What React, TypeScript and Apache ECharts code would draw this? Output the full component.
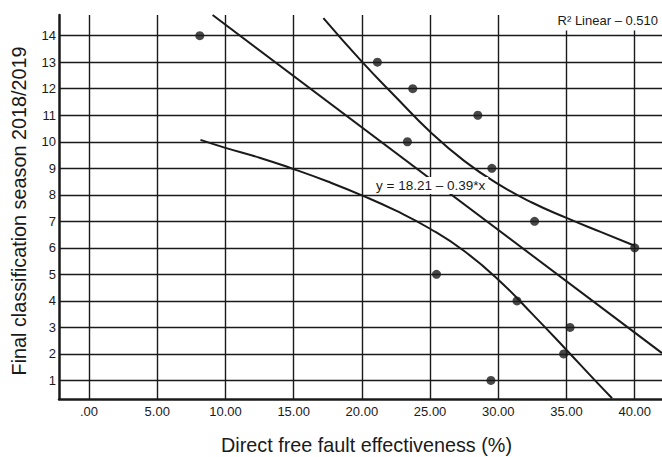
import React, { useEffect, useRef } from "react";
import * as echarts from "echarts";

// Scatter data: direct free fault effectiveness (%) vs final classification
const effectiveness = [8.12, 21.14, 23.73, 28.5, 23.34, 29.53, 32.66, 40.0, 25.47, 31.37, 35.26, 34.79, 29.46];
const classification = [14, 13, 12, 11, 10, 9, 7, 6, 5, 4, 3, 2, 1];

// Fitted line
const regressionX = [9.06, 42];
const regressionY = [14.78, 2.03];

// Upper confidence curve
const upperX = [17.18, 20, 22.5, 25, 27.5, 30, 32.5, 35, 37.5, 40];
const upperY = [14.66, 13.02, 11.68, 10.38, 9.28, 8.4, 7.7, 7.13, 6.6, 6.08];

// Lower confidence curve
const lowerX = [8.17, 10, 12.5, 15, 17.5, 20, 22.5, 25, 27.5, 30, 32.5, 35, 37, 38.34];
const lowerY = [10.07, 9.77, 9.4, 8.97, 8.5, 7.98, 7.4, 6.72, 5.88, 4.8, 3.5, 2.15, 1.05, 0.33];

const xTicks = [0, 5, 10, 15, 20, 25, 30, 35, 40];
const xTickLabels = [".00", "5.00", "10.00", "15.00", "20.00", "25.00", "30.00", "35.00", "40.00"];
const yTicks = [1, 2, 3, 4, 5, 6, 7, 8, 9, 10, 11, 12, 13, 14];

const equationText = "y = 18.21 \u2013 0.39*x";
const r2Text = "R\u00B2 Linear \u2013 0.510";
const xTitle = "Direct free fault effectiveness (%)";
const yTitle = "Final classification season 2018/2019";

const FONT = "'Liberation Sans', Arial, Helvetica, sans-serif";
const INK = "#1a1a1a";

const zip = (xs: number[], ys: number[]) => xs.map((x, i) => [x, ys[i]]);

export default function App() {
  const ref = useRef<HTMLDivElement>(null);

  useEffect(() => {
    document.body.style.margin = "0";
    if (!ref.current) return;
    const chart = echarts.init(ref.current, null, { renderer: "svg" });
    chart.setOption({
      animation: false,
      backgroundColor: "#ffffff",
      textStyle: { fontFamily: FONT },
      grid: { left: 59, right: 0, top: 15, bottom: 58, containLabel: false },
      xAxis: {
        type: "value",
        min: -2.2,
        max: 42,
        axisLine: { show: true, onZero: false, lineStyle: { color: INK, width: 2.5 } },
        axisTick: { show: false, customValues: xTicks },
        axisLabel: {
          customValues: xTicks,
          fontSize: 13,
          color: INK,
          fontFamily: FONT,
          margin: 6,
          formatter: (v: number) => xTickLabels[xTicks.indexOf(v)] ?? "",
        },
        splitLine: { show: true, lineStyle: { color: INK, width: 1.4 } },
      },
      yAxis: {
        type: "value",
        min: 0.3,
        max: 14.78,
        axisLine: { show: true, onZero: false, lineStyle: { color: INK, width: 2.5 } },
        axisTick: { show: false, customValues: yTicks },
        axisLabel: {
          customValues: yTicks,
          fontSize: 13,
          color: INK,
          fontFamily: FONT,
          margin: 3,
          formatter: (v: number) => String(v),
        },
        splitLine: { show: true, lineStyle: { color: INK, width: 1.4 } },
      },
      series: [
        {
          type: "line",
          data: zip(regressionX, regressionY),
          symbol: "none",
          lineStyle: { color: INK, width: 2 },
          silent: true,
          z: 3,
        },
        {
          type: "line",
          data: zip(upperX, upperY),
          symbol: "none",
          smooth: 0.5,
          lineStyle: { color: INK, width: 2 },
          silent: true,
          z: 3,
        },
        {
          type: "line",
          data: zip(lowerX, lowerY),
          symbol: "none",
          smooth: 0.5,
          lineStyle: { color: INK, width: 2 },
          silent: true,
          z: 3,
        },
        {
          type: "scatter",
          data: zip(effectiveness, classification),
          symbol: "circle",
          symbolSize: 9,
          itemStyle: { color: INK },
          z: 5,
        },
      ],
      graphic: [
        {
          type: "text",
          z: 100,
          x: 373,
          y: 185.5,
          style: {
            text: equationText,
            fontSize: 13.5,
            fontFamily: FONT,
            fill: INK,
            backgroundColor: "#ffffff",
            padding: [2, 3],
            lineHeight: 13,
            verticalAlign: "middle",
            align: "left",
          },
        },
        {
          type: "text",
          z: 100,
          x: 662,
          y: 20,
          style: {
            text: r2Text,
            fontSize: 13,
            fontFamily: FONT,
            fill: INK,
            backgroundColor: "#ffffff",
            padding: [4, 4],
            lineHeight: 13,
            verticalAlign: "middle",
            align: "right",
          },
        },
        {
          type: "text",
          z: 100,
          x: 366.5,
          y: 445,
          style: {
            text: xTitle,
            fontSize: 19.8,
            fontFamily: FONT,
            fill: INK,
            verticalAlign: "middle",
            align: "center",
          },
        },
        {
          type: "text",
          z: 100,
          x: 19,
          y: 211,
          rotation: Math.PI / 2,
          style: {
            text: yTitle,
            fontSize: 19.8,
            fontFamily: FONT,
            fill: INK,
            verticalAlign: "middle",
            align: "center",
          },
        },
      ],
    });
    return () => chart.dispose();
  }, []);

  return <div ref={ref} style={{ width: 662, height: 457 }} />;
}
